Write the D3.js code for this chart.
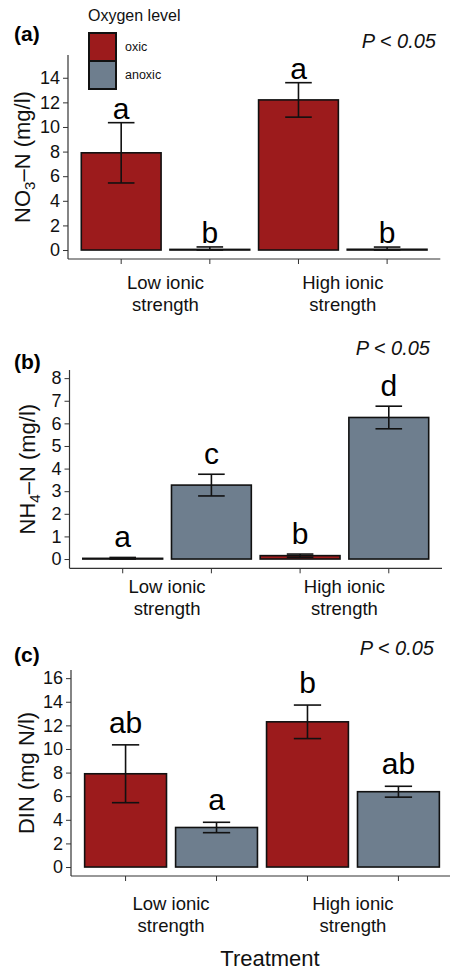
<!DOCTYPE html>
<html><head><meta charset="utf-8">
<script src="https://cdn.jsdelivr.net/npm/d3@7"></script>
<style>
html,body{margin:0;padding:0;background:#fff;}
svg{display:block;font-family:"Liberation Sans",Arial,Helvetica,sans-serif;}
</style></head>
<body>
<svg id="chart" width="450" height="973"></svg>
<script>
// ---------- data ----------
const treatments = ["Low ionic strength", "High ionic strength"];
const treatmentLines = [["Low ionic", "strength"], ["High ionic", "strength"]];
const oxygenLevels = ["oxic", "anoxic"];
const barTreatment = [0, 0, 1, 1];
const barOxygen = ["oxic", "anoxic", "oxic", "anoxic"];

const no3Mean = [7.9, 0.05, 12.2, 0.06];
const no3Se   = [2.45, 0.2, 1.4, 0.18];
const no3Letters = ["a", "b", "a", "b"];

const nh4Mean = [0.03, 3.27, 0.15, 6.26];
const nh4Se   = [0.04, 0.48, 0.07, 0.5];
const nh4Letters = ["a", "c", "b", "d"];

const dinMean = [7.9, 3.35, 12.3, 6.38];
const dinSe   = [2.45, 0.44, 1.42, 0.46];
const dinLetters = ["ab", "a", "b", "ab"];

const ticksA = [0, 2, 4, 6, 8, 10, 12, 14];
const ticksB = [0, 1, 2, 3, 4, 5, 6, 7, 8];
const ticksC = [0, 2, 4, 6, 8, 10, 12, 14, 16];

const pText = "P < 0.05";
const xTitle = "Treatment";
const legendTitle = "Oxygen level";

// ---------- style ----------
const colors = {oxic: "#9c1b1c", anoxic: "#6e7e8e"};
const svg = d3.select("#chart");

const panels = [
  {tag: "(a)", mean: no3Mean, se: no3Se, letters: no3Letters, ticks: ticksA,
   ylab: ["NO", "3", "–N (mg/l)"], top: 55, bottom: 259, left: 68, right: 440.3,
   yLo: -0.73, yHi: 15.85, letOff: 0.3, tagY: 41, pY: 48, pX: 436, catY: 289, ylabX: 30},
  {tag: "(b)", mean: nh4Mean, se: nh4Se, letters: nh4Letters, ticks: ticksB,
   ylab: ["NH", "4", "–N (mg/l)"], top: 370, bottom: 568.3, left: 69.5, right: 442,
   yLo: -0.41, yHi: 8.36, letOff: 0.46, tagY: 369, pY: 355, pX: 430, catY: 593, ylabX: 35},
  {tag: "(c)", mean: dinMean, se: dinSe, letters: dinLetters, ticks: ticksC,
   ylab: ["DIN (mg N/l)", "", ""], top: 670, bottom: 876, left: 71, right: 453,
   yLo: -0.76, yHi: 16.69, letOff: 1.0, tagY: 662, pY: 655, pX: 434, catY: 910, ylabX: 34}
];

const ids = [0, 1, 2, 3];

panels.forEach(p => {
  const x = d3.scaleBand().domain(ids).range([p.left, p.right]).paddingInner(0.1).paddingOuter(0.15);
  const y = d3.scaleLinear().domain([p.yLo, p.yHi]).range([p.bottom, p.top]);
  const g = svg.append("g");
  const bw = x.bandwidth();
  const cx = i => x(i) + bw / 2;

  // bars
  g.selectAll("rect.bar").data(ids).join("rect")
    .attr("x", i => x(i)).attr("width", bw)
    .attr("y", i => y(p.mean[i])).attr("height", i => y(0) - y(p.mean[i]))
    .attr("fill", i => colors[barOxygen[i]])
    .attr("stroke", "#111").attr("stroke-width", 1.6);

  // error bars
  const ew = x.step() * 0.3;
  const eb = g.selectAll("g.err").data(ids).join("g").attr("stroke", "#111").attr("stroke-width", 1.6);
  eb.append("line").attr("x1", cx).attr("x2", cx)
    .attr("y1", i => y(p.mean[i] + p.se[i])).attr("y2", i => y(Math.max(0, p.mean[i] - p.se[i])));
  eb.append("line").attr("x1", i => cx(i) - ew / 2).attr("x2", i => cx(i) + ew / 2)
    .attr("y1", i => y(p.mean[i] + p.se[i])).attr("y2", i => y(p.mean[i] + p.se[i]));
  eb.append("line").attr("x1", i => cx(i) - ew / 2).attr("x2", i => cx(i) + ew / 2)
    .attr("y1", i => y(Math.max(0, p.mean[i] - p.se[i]))).attr("y2", i => y(Math.max(0, p.mean[i] - p.se[i])));

  // letters
  g.selectAll("text.let").data(ids).join("text")
    .attr("x", cx).attr("y", i => y(p.mean[i] + p.se[i] + p.letOff))
    .attr("text-anchor", "middle").attr("font-size", 30).attr("fill", "#000")
    .text(i => p.letters[i]);

  // y axis
  const ya = g.append("g").attr("transform", `translate(${p.left},0)`)
    .call(d3.axisLeft(y).tickValues(p.ticks).tickSize(5).tickPadding(3).tickFormat(d3.format("d")));
  ya.select(".domain").attr("d", `M0,${p.top}V${p.bottom}`).attr("stroke", "#333").attr("stroke-width", 1.2);
  ya.selectAll(".tick line").attr("stroke", "#333");
  ya.selectAll(".tick text").attr("font-size", 18).attr("fill", "#111").attr("font-family", null);

  // x axis
  const xa = g.append("g").attr("transform", `translate(0,${p.bottom})`)
    .call(d3.axisBottom(x).tickSize(5).tickFormat(""));
  xa.select(".domain").attr("d", `M${p.left},0H${p.right}`).attr("stroke", "#333").attr("stroke-width", 1.2);
  xa.selectAll(".tick line").attr("stroke", "#333");

  // category labels
  treatments.forEach((t, ti) => {
    const bars = ids.filter(i => barTreatment[i] === ti);
    const mx = d3.mean(bars, cx);
    const tx = g.append("text").attr("x", mx).attr("y", p.catY)
      .attr("text-anchor", "middle").attr("font-size", 18.5).attr("fill", "#111");
    treatmentLines[ti].forEach((ln, li) => {
      tx.append("tspan").attr("x", mx).attr("dy", li === 0 ? 0 : 22).text(ln);
    });
  });

  // y title
  const cy = (p.top + p.bottom) / 2;
  const yt = g.append("text").attr("transform", `translate(${p.ylabX},${cy}) rotate(-90)`)
    .attr("text-anchor", "middle").attr("font-size", 22).attr("fill", "#111");
  yt.append("tspan").text(p.ylab[0]);
  if (p.ylab[1]) {
    yt.append("tspan").attr("font-size", 15).attr("dy", 5).text(p.ylab[1]);
    yt.append("tspan").attr("dy", -5).text(p.ylab[2]);
  }

  // tag & P
  g.append("text").attr("x", 14).attr("y", p.tagY).attr("font-size", 21).attr("font-weight", "bold").text(p.tag);
  g.append("text").attr("x", p.pX).attr("y", p.pY).attr("text-anchor", "end")
    .attr("font-size", 20).attr("font-style", "italic").attr("fill", "#111").text(pText);
});

// x title
svg.append("text").attr("x", 270).attr("y", 966).attr("text-anchor", "middle")
  .attr("font-size", 22).attr("fill", "#111").text(xTitle);

// legend
const lg = svg.append("g");
lg.append("text").attr("x", 88).attr("y", 21).attr("font-size", 16).attr("fill", "#111").text(legendTitle);
oxygenLevels.forEach((o, i) => {
  lg.append("rect").attr("x", 89).attr("y", 33 + i * 28).attr("width", 27).attr("height", 28)
    .attr("fill", colors[o]).attr("stroke", "#111").attr("stroke-width", 2);
  lg.append("text").attr("x", 125).attr("y", 47 + i * 28).attr("dy", "0.35em")
    .attr("font-size", 12.5).attr("fill", "#111").text(o);
});
</script>
</body></html>
